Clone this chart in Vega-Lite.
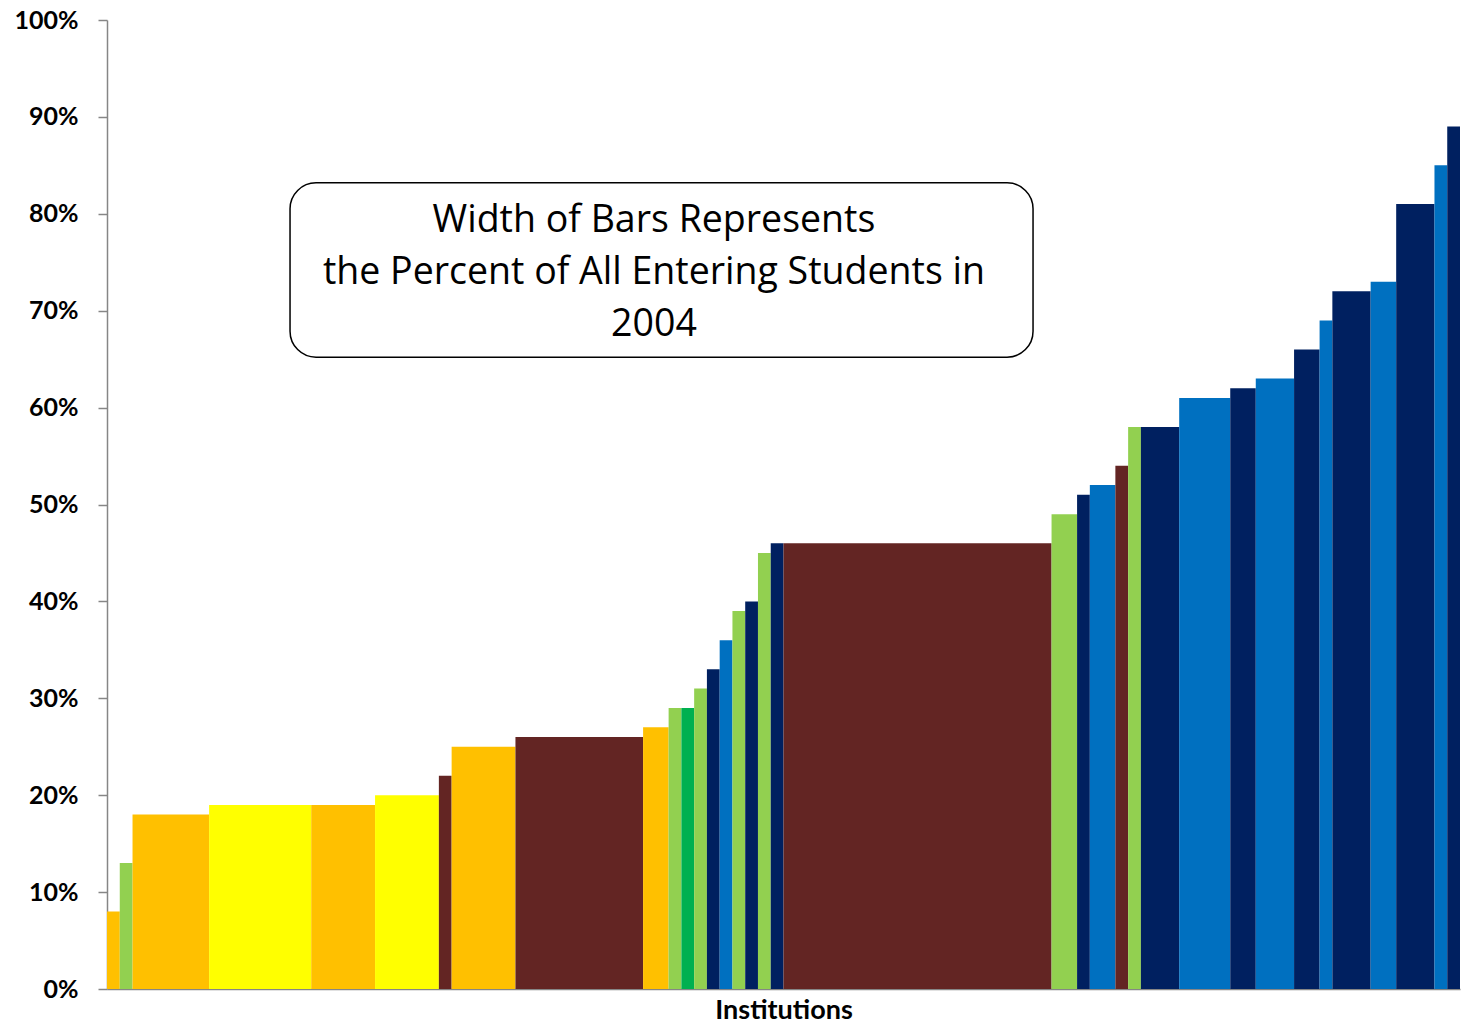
{
  "$schema": "https://vega.github.io/schema/vega-lite/v6.json",
  "width": 1353,
  "height": 969,
  "autosize": {"type": "none"},
  "padding": {"left": 107, "top": 20, "right": 2, "bottom": 38},
  "background": "white",
  "config": {"view": {"stroke": null}},
  "datasets": {
    "bars": [
      {"i": 1, "w": 1, "v": 8, "g": "orange"},
      {"i": 2, "w": 1, "v": 13, "g": "lightgreen"},
      {"i": 3, "w": 6, "v": 18, "g": "orange"},
      {"i": 4, "w": 8, "v": 19, "g": "yellow"},
      {"i": 5, "w": 5, "v": 19, "g": "orange"},
      {"i": 6, "w": 5, "v": 20, "g": "yellow"},
      {"i": 7, "w": 1, "v": 22, "g": "maroon"},
      {"i": 8, "w": 5, "v": 25, "g": "orange"},
      {"i": 9, "w": 10, "v": 26, "g": "maroon"},
      {"i": 10, "w": 2, "v": 27, "g": "orange"},
      {"i": 11, "w": 1, "v": 29, "g": "lightgreen"},
      {"i": 12, "w": 1, "v": 29, "g": "green"},
      {"i": 13, "w": 1, "v": 31, "g": "lightgreen"},
      {"i": 14, "w": 1, "v": 33, "g": "navy"},
      {"i": 15, "w": 1, "v": 36, "g": "blue"},
      {"i": 16, "w": 1, "v": 39, "g": "lightgreen"},
      {"i": 17, "w": 1, "v": 40, "g": "navy"},
      {"i": 18, "w": 1, "v": 45, "g": "lightgreen"},
      {"i": 19, "w": 1, "v": 46, "g": "navy"},
      {"i": 20, "w": 21, "v": 46, "g": "maroon"},
      {"i": 21, "w": 2, "v": 49, "g": "lightgreen"},
      {"i": 22, "w": 1, "v": 51, "g": "navy"},
      {"i": 23, "w": 2, "v": 52, "g": "blue"},
      {"i": 24, "w": 1, "v": 54, "g": "maroon"},
      {"i": 25, "w": 1, "v": 58, "g": "lightgreen"},
      {"i": 26, "w": 3, "v": 58, "g": "navy"},
      {"i": 27, "w": 4, "v": 61, "g": "blue"},
      {"i": 28, "w": 2, "v": 62, "g": "navy"},
      {"i": 29, "w": 3, "v": 63, "g": "blue"},
      {"i": 30, "w": 2, "v": 66, "g": "navy"},
      {"i": 31, "w": 1, "v": 69, "g": "blue"},
      {"i": 32, "w": 3, "v": 72, "g": "navy"},
      {"i": 33, "w": 2, "v": 73, "g": "blue"},
      {"i": 34, "w": 3, "v": 81, "g": "navy"},
      {"i": 35, "w": 1, "v": 85, "g": "blue"},
      {"i": 36, "w": 1, "v": 89, "g": "navy"}
    ],
    "note": [
      {"x0": 14.34, "x1": 72.55, "y0": 65.2, "y1": 83.2, "tx": 42.85, "ty": 79.3,
       "label": ["Width of Bars Represents", "the Percent of All Entering Students in", "2004"]}
    ]
  },
  "layer": [
    {
      "data": {"name": "bars"},
      "transform": [
        {"window": [{"op": "sum", "field": "w", "as": "end"}], "sort": [{"field": "i", "order": "ascending"}], "frame": [null, 0]},
        {"calculate": "datum.end - datum.w", "as": "start"}
      ],
      "mark": {"type": "rect"},
      "encoding": {
        "x": {
          "field": "start", "type": "quantitative",
          "scale": {"domain": [0, 106], "nice": false, "zero": false},
          "axis": {
            "title": "Institutions", "labels": false, "ticks": false, "grid": false,
            "domain": true, "domainColor": "#868686", "domainWidth": 1.5,
            "titleFont": "Lato", "titleFontSize": 27, "titleFontWeight": "bold",
            "titleColor": "#000000", "titlePadding": 8
          }
        },
        "x2": {"field": "end"},
        "y": {
          "field": "v", "type": "quantitative",
          "scale": {"domain": [0, 100], "nice": false},
          "axis": {
            "title": null, "values": [0, 10, 20, 30, 40, 50, 60, 70, 80, 90, 100],
            "labelExpr": "datum.value + '%'", "grid": false,
            "domainColor": "#868686", "domainWidth": 1.5,
            "tickColor": "#868686", "tickWidth": 1.5, "tickSize": 9,
            "labelFont": "Lato", "labelFontSize": 25, "labelFontWeight": "bold",
            "labelColor": "#000000", "labelPadding": 20
          }
        },
        "y2": {"datum": 0},
        "color": {
          "field": "g", "type": "nominal", "legend": null,
          "scale": {
            "domain": ["orange", "yellow", "maroon", "lightgreen", "green", "navy", "blue"],
            "range": ["#FFC000", "#FFFF00", "#632523", "#92D050", "#00B050", "#002060", "#0070C0"]
          }
        }
      }
    },
    {
      "data": {"name": "note"},
      "mark": {"type": "rect", "fill": "white", "stroke": "black", "strokeWidth": 1.5, "cornerRadius": 26},
      "encoding": {
        "x": {"field": "x0", "type": "quantitative"},
        "x2": {"field": "x1"},
        "y": {"field": "y0", "type": "quantitative"},
        "y2": {"field": "y1"}
      }
    },
    {
      "data": {"name": "note"},
      "mark": {"type": "text", "font": "Open Sans", "fontSize": 37.5, "lineHeight": 52, "align": "center", "baseline": "middle", "color": "black"},
      "encoding": {
        "x": {"field": "tx", "type": "quantitative"},
        "y": {"field": "ty", "type": "quantitative"},
        "text": {"field": "label"}
      }
    }
  ]
}
